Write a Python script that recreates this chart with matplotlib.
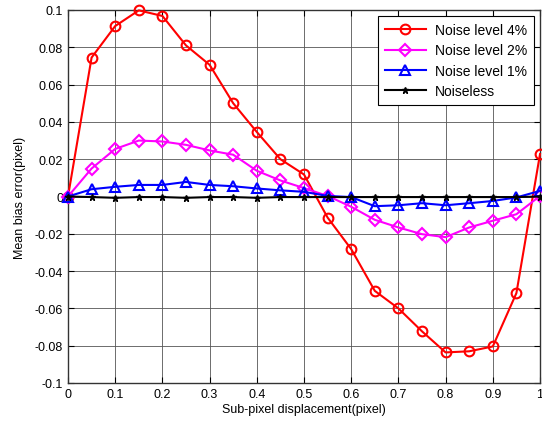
import matplotlib
matplotlib.use("Agg")
import matplotlib.pyplot as plt
import numpy as np

plt.rcParams['font.family'] = ['Liberation Sans', 'DejaVu Sans']

x = [0, 0.05, 0.1, 0.15, 0.2, 0.25, 0.3, 0.35, 0.4, 0.45, 0.5,
     0.55, 0.6, 0.65, 0.7, 0.75, 0.8, 0.85, 0.9, 0.95, 1.0]
noise4 = [0, 0.0745, 0.0914, 0.0998, 0.0968, 0.081, 0.0706, 0.050, 0.0346, 0.020, 0.0118,
          -0.0113, -0.0282, -0.0506, -0.060, -0.0723, -0.0836, -0.083, -0.0804, -0.0518, 0.0227]
noise2 = [0, 0.015, 0.0255, 0.030, 0.0295, 0.0277, 0.0247, 0.0224, 0.0138, 0.0086, 0.0045,
          0.0003, -0.0055, -0.0125, -0.0166, -0.0202, -0.0218, -0.0166, -0.013, -0.0095, 0.0003]
noise1 = [0, 0.0039, 0.0052, 0.0062, 0.0062, 0.0078, 0.0062, 0.0055, 0.0043, 0.0033, 0.0025,
          0.0003, -0.0003, -0.0052, -0.0047, -0.0036, -0.0047, -0.0036, -0.0024, -0.0005, 0.0030]
noiseless = [0, -0.0003, -0.0007, -0.0003, -0.0003, -0.0007, -0.0003, -0.0003, -0.0007, -0.0003, -0.0003,
             -0.0003, -0.0003, -0.0003, -0.0003, -0.0003, -0.0003, -0.0003, -0.0003, -0.0003, 0]
xticks = [0, 0.1, 0.2, 0.3, 0.4, 0.5, 0.6, 0.7, 0.8, 0.9, 1]
yticks = [-0.1, -0.08, -0.06, -0.04, -0.02, 0, 0.02, 0.04, 0.06, 0.08, 0.1]

fig = plt.figure(figsize=(5.42, 4.27), dpi=100)
ax = fig.add_axes([68/542, 1-384/427, (540-68)/542, (384-11)/427])

ax.plot(x, noise4, color='red', lw=1.5, marker='o', ms=7, mfc='none', mew=1.5, label='Noise level 4%', clip_on=False, zorder=4)
ax.plot(x, noise2, color='magenta', lw=1.5, marker='D', ms=6, mfc='none', mew=1.5, label='Noise level 2%', clip_on=False, zorder=4)
ax.plot(x, noise1, color='blue', lw=1.5, marker='^', ms=7, mfc='none', mew=1.5, label='Noise level 1%', clip_on=False, zorder=4)
ax.plot(x, noiseless, color='black', lw=1.5, marker='*', ms=5, mew=1.0, label='Noiseless', clip_on=False, zorder=4)

ax.set_xlim(0, 1)
ax.set_ylim(-0.1, 0.1)
ax.set_xticks(xticks)
ax.set_xticklabels(['0', '0.1', '0.2', '0.3', '0.4', '0.5', '0.6', '0.7', '0.8', '0.9', '1'])
ax.set_yticks(yticks)
ax.set_yticklabels(['-0.1', '-0.08', '-0.06', '-0.04', '-0.02', '0', '0.02', '0.04', '0.06', '0.08', '0.1'])
ax.tick_params(direction='in', top=True, right=True, labelsize=9, length=4, width=0.8)
ax.grid(True, color='#555555', lw=0.6)
for s in ax.spines.values():
    s.set_linewidth(1.0)
    s.set_color('#333333')

ax.set_xlabel('Sub-pixel displacement(pixel)', fontsize=9, labelpad=2)
ax.set_ylabel('Mean bias error(pixel)', fontsize=9, labelpad=6)

leg = ax.legend(loc='upper right', fontsize=10, fancybox=False, framealpha=1,
                edgecolor='black', borderaxespad=0.45, handlelength=3.0, labelspacing=0.45,
                borderpad=0.5, handletextpad=0.6)
leg.get_frame().set_linewidth(0.8)
leg.set_zorder(10)

fig.savefig('out.png', dpi=100)
